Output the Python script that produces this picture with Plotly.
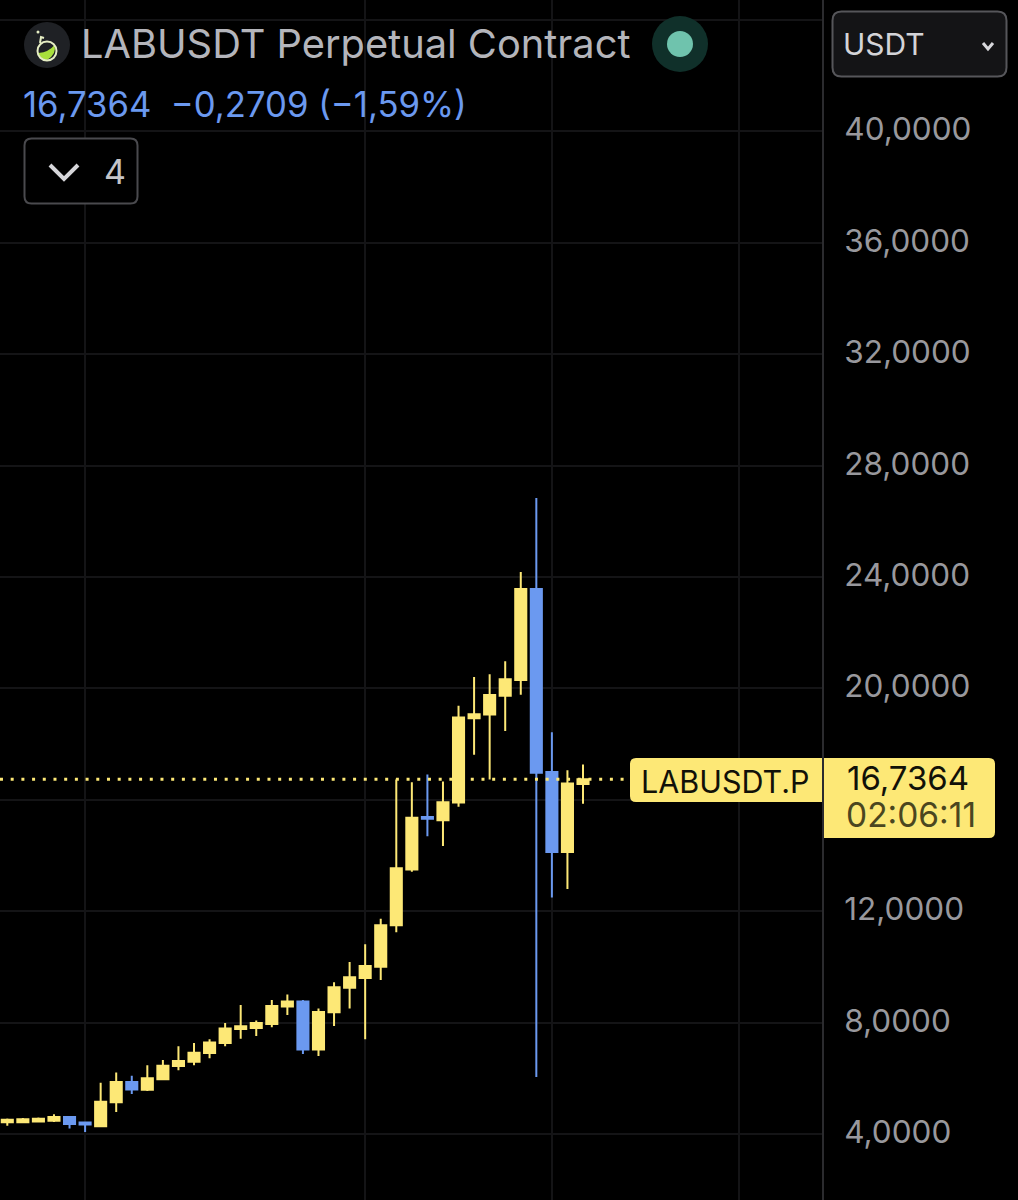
import plotly.graph_objects as go

W, H = 1018, 1200
PLOT_W = 822

bars = list(range(38))
opens = [4.42, 4.42, 4.45, 4.48, 4.61, 4.41, 4.28, 5.14, 5.87, 5.59, 5.97, 6.44, 6.59, 6.91, 7.27, 7.77, 7.81, 7.95, 8.58, 8.76,
         7.03, 8.37, 9.25, 9.60, 10.01, 11.50, 13.50, 15.38, 15.27, 15.90, 18.93, 19.06, 19.74, 20.30, 23.57, 17.00, 14.13, 16.57]
highs = [4.56, 4.57, 4.59, 4.71, 4.65, 4.43, 5.84, 6.21, 6.09, 6.47, 6.66, 7.15, 7.27, 7.40, 7.99, 8.63, 8.08, 8.81, 9.01, 8.81,
         8.51, 9.45, 10.18, 10.81, 11.73, 16.73, 16.63, 16.91, 16.66, 19.38, 20.41, 20.51, 20.98, 24.18, 26.84, 18.43, 17.06, 17.27]
lows = [4.30, 4.41, 4.44, 4.43, 4.20, 4.07, 4.28, 4.79, 5.44, 5.54, 5.97, 6.29, 6.47, 6.72, 7.15, 7.42, 7.52, 7.83, 8.27, 6.87,
        6.80, 7.88, 8.51, 7.40, 9.53, 11.24, 13.42, 14.69, 14.34, 15.75, 17.62, 16.73, 18.47, 19.77, 6.05, 12.49, 12.80, 15.86]
closes = [4.51, 4.53, 4.55, 4.61, 4.36, 4.34, 5.16, 5.87, 5.60, 6.00, 6.45, 6.62, 6.92, 7.29, 7.79, 7.87, 7.99, 8.60, 8.76, 7.03,
          8.38, 9.27, 9.63, 10.03, 11.50, 13.54, 15.36, 15.32, 15.91, 18.96, 19.07, 19.76, 20.33, 23.57, 16.97, 14.13, 16.59, 16.7364]

price_ticks = [4, 8, 12, 16, 20, 24, 28, 32, 36, 40, 44]
price_labels = ["4,0000", "8,0000", "12,0000", "", "20,0000", "24,0000", "28,0000", "32,0000", "36,0000", "40,0000", ""]
time_grid = [5, 23, 35, 47]
last_price = 16.7364

YELLOW = "#fde876"
BLUE = "#6b99f0"
GRID = "#141416"
FONT = "Inter"


def px(x):
    return x / W


def py(y):
    return 1 - y / H


def rrect(x0, y0, x1, y1, r=None, tl=6, tr=6, br=6, bl=6, **kw):
    if r is not None:
        tl = tr = br = bl = r
    p = (f"M {px(x0 + tl)} {py(y0)} L {px(x1 - tr)} {py(y0)} Q {px(x1)} {py(y0)} {px(x1)} {py(y0 + tr)} "
         f"L {px(x1)} {py(y1 - br)} Q {px(x1)} {py(y1)} {px(x1 - br)} {py(y1)} "
         f"L {px(x0 + bl)} {py(y1)} Q {px(x0)} {py(y1)} {px(x0)} {py(y1 - bl)} "
         f"L {px(x0)} {py(y0 + tl)} Q {px(x0)} {py(y0)} {px(x0 + tl)} {py(y0)} Z")
    return dict(type="path", path=p, xref="paper", yref="paper", **kw)


def circle(cx, cy, r, fill, line=None):
    return dict(type="circle", xref="paper", yref="paper", x0=px(cx - r), x1=px(cx + r),
                y0=py(cy + r), y1=py(cy - r), fillcolor=fill, line=line or dict(width=0))


def poly(points, color, width):
    p = "M " + " L ".join(f"{px(a)} {py(b)}" for a, b in points)
    return dict(type="path", path=p, xref="paper", yref="paper", line=dict(color=color, width=width))


def label(x, y, s, size, color, anchor="left"):
    return dict(x=px(x), y=py(y), xref="paper", yref="paper", text=s, showarrow=False, xanchor=anchor,
                yanchor="middle", font=dict(family=FONT, size=size, color=color), borderpad=0, borderwidth=0)


fig = go.Figure(go.Candlestick(
    x=bars, open=opens, high=highs, low=lows, close=closes,
    increasing=dict(line=dict(color=YELLOW, width=2), fillcolor=YELLOW),
    decreasing=dict(line=dict(color=BLUE, width=2), fillcolor=BLUE),
    hoverinfo="skip", showlegend=False,
))

shapes = [
    dict(type="line", xref="x", yref="y", x0=-0.47, x1=40, y0=last_price, y1=last_price, layer="above",
         line=dict(color=YELLOW, width=3, dash="3px,7.7px")),
    circle(47, 45, 23, "#1f2125"),
    dict(type="path", xref="paper", yref="paper", fillcolor="#a8e03c", line_width=0,
         path=f"M {px(38.5)} {py(53)} Q {px(49)} {py(52)} {px(54.5)} {py(45)} Q {px(57)} {py(54)} {px(47)} {py(60)} Q {px(40)} {py(59)} {px(38.5)} {py(53)} Z"),
    circle(47, 51, 9.5, "rgba(0,0,0,0)", dict(color="#e6eec4", width=2)),
    poly([(40, 43), (41, 37), (44, 38)], "#e6eec4", 2),
    circle(38, 32, 1.5, "#e6eec4"),
    circle(680, 44, 28, "#10302a"),
    circle(680, 44, 13, "#6fc3ad"),
    rrect(832.5, 11.5, 1006.5, 76.5, r=9, fillcolor="#141416", line=dict(color="#56565a", width=2)),
    poly([(983, 43), (988, 49), (993, 43)], "#d8d8dc", 3),
    rrect(24.5, 138.5, 137.5, 203.5, r=7, fillcolor="#000000", line=dict(color="#4a4a4e", width=2)),
    poly([(50, 165), (64, 179), (78, 165)], "#d6d6da", 4),
    rrect(630, 758, 822, 802, tl=6, tr=0, br=0, bl=6, fillcolor=YELLOW, line_width=0),
    rrect(824, 758, 995, 838, tl=0, tr=6, br=6, bl=0, fillcolor=YELLOW, line_width=0),
]

annotations = [
    label(81, 44, "LABUSDT Perpetual Contract", 39.8, "#b4b5bb"),
    label(23, 104, "16,7364  −0,2709 (−1,59%)", 34.7, BLUE),
    label(843, 44, "USDT", 30, "#d4d4d8"),
    label(115, 172, "4", 34, "#c4c4c8", "center"),
    label(641, 781, "LABUSDT.P", 30.5, "#111108"),
    label(908, 778, "16,7364", 33, "#111108", "center"),
    label(911, 815, "02:06:11", 33.5, "#4b4620", "center"),
]

fig.update_layout(
    width=W, height=H, margin=dict(l=0, r=0, t=0, b=0), autosize=False,
    paper_bgcolor="#000000", plot_bgcolor="#000000",
    font=dict(family=FONT), showlegend=False, hovermode=False,
    boxgap=0.25, boxgroupgap=0.05,
    shapes=shapes, annotations=annotations,
    xaxis=dict(domain=[0, PLOT_W / W], range=[-0.469, 52.36], rangeslider=dict(visible=False),
               tickmode="array", tickvals=time_grid, showticklabels=False, ticks="",
               showgrid=True, gridcolor=GRID, gridwidth=2, zeroline=False, showline=False, fixedrange=True),
    yaxis=dict(side="right", range=[1.63, 44.72], tickmode="array", tickvals=price_ticks, ticktext=price_labels,
               showgrid=True, gridcolor=GRID, gridwidth=2, zeroline=False, showline=True, linecolor="#2b2b2e",
               linewidth=2, ticks="", ticklabelstandoff=14, ticklabelshift=-2,
               tickfont=dict(family=FONT, size=31.5, color="#98989d"), fixedrange=True),
)

fig.write_html("out.html", config=dict(displayModeBar=False),
               post_script="document.body.style.margin='0';document.body.style.overflow='hidden';window.dispatchEvent(new Event('resize'));")
